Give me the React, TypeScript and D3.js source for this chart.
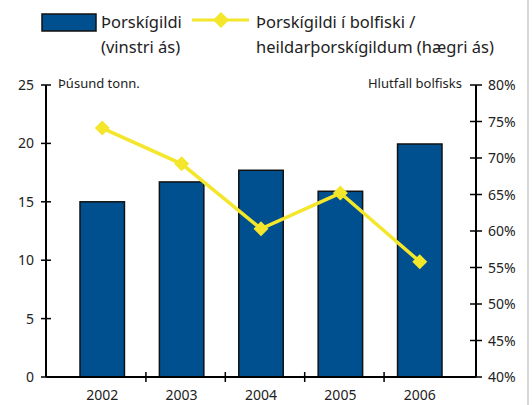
import React from "react";
import * as d3 from "d3";

const years = ["2002", "2003", "2004", "2005", "2006"];
const catchValues = [15.0, 16.7, 17.7, 15.9, 19.95];
const shareValues = [74.1, 69.2, 60.3, 65.2, 55.8];
const leftTicks = [0, 5, 10, 15, 20, 25];
const rightTicks = [40, 45, 50, 55, 60, 65, 70, 75, 80];
const legendBarLines = ["Þorskígildi", "(vinstri ás)"];
const legendLineLines = ["Þorskígildi í bolfiski /", "heildarþorskígildum (hægri ás)"];
const leftTitle = "Þúsund tonn.";
const rightTitle = "Hlutfall bolfisks";

const W = 532;
const H = 405;
const axisL = 46;
const axisR = 476;
const yTop = 85;
const yBot = 377;
const FONT = "'Noto Sans', sans-serif";
const TXT = "#222";
const BLUE = "#00508f";
const YEL = "#f3e62b";

export default function App() {
  const x = d3
    .scaleBand<string>()
    .domain(years)
    .range([80, 442])
    .paddingInner(0.44)
    .paddingOuter(0);
  const bw = x.bandwidth();
  const step = x.step();
  const yL = d3.scaleLinear().domain([0, 25]).range([yBot, yTop]);
  const yR = d3.scaleLinear().domain([40, 80]).range([yBot, yTop]);
  const cx = (d: string) => (x(d) as number) + bw / 2;

  const line = d3
    .line<number>()
    .x((_, i) => cx(years[i]))
    .y((v) => yR(v));

  const diamond = (px: number, py: number, r: number) =>
    `M${px},${py - r}L${px + r},${py}L${px},${py + r}L${px - r},${py}Z`;

  const boundaryTicks = years.slice(0, -1).map((d) => cx(d) + step / 2 + 4);

  return (
    <svg
      width={W}
      height={H}
      style={{ position: "absolute", left: 0, top: 0, background: "#fff" }}
      fontFamily={FONT}
    >
      <rect x={0} y={0} width={W} height={H} fill="#fff" />
      <line x1={528} x2={528} y1={0} y2={H} stroke="#c8c8c8" strokeWidth={1.5} />

      {/* Legend */}
      <rect x={42} y={14} width={54} height={17} fill={BLUE} stroke="#111" strokeWidth={1.5} />
      {legendBarLines.map((t, i) => (
        <text key={t} x={101} y={28 + i * 25} fontSize={16.5} fill={TXT}>
          {t}
        </text>
      ))}
      <line x1={192} x2={249} y1={20} y2={20} stroke={YEL} strokeWidth={3} />
      <path d={diamond(221, 20, 8)} fill={YEL} />
      {legendLineLines.map((t, i) => (
        <text key={t} x={256} y={28 + i * 25} fontSize={16.5} fill={TXT}>
          {t}
        </text>
      ))}

      {/* Axis titles */}
      <text x={58} y={88} fontSize={13} fill={TXT}>
        {leftTitle}
      </text>
      <text x={462} y={88} fontSize={13} fill={TXT} textAnchor="end">
        {rightTitle}
      </text>

      {/* Bars */}
      {years.map((d, i) => (
        <rect
          key={d}
          x={x(d)}
          y={yL(catchValues[i])}
          width={bw}
          height={yBot - yL(catchValues[i])}
          fill={BLUE}
          stroke="#111"
          strokeWidth={1.5}
        />
      ))}

      {/* Left axis */}
      <line x1={axisL} x2={axisL} y1={yTop} y2={yBot} stroke="#000" strokeWidth={2} />
      {leftTicks.map((t) => (
        <g key={t}>
          <line x1={axisL - 5} x2={axisL + 5} y1={yL(t)} y2={yL(t)} stroke="#000" strokeWidth={1.5} />
          <text x={34} y={yL(t) + 5} fontSize={14} fill={TXT} textAnchor="end">
            {t}
          </text>
        </g>
      ))}

      {/* Right axis */}
      <line x1={axisR} x2={axisR} y1={yTop} y2={yBot} stroke="#000" strokeWidth={2} />
      {rightTicks.map((t) => (
        <g key={t}>
          <line x1={axisR - 6} x2={axisR + 6} y1={yR(t)} y2={yR(t)} stroke="#000" strokeWidth={1.5} />
          <text x={488} y={yR(t) + 5} fontSize={14} fill={TXT}>
            {t}%
          </text>
        </g>
      ))}

      {/* Bottom axis */}
      <line x1={axisL} x2={axisR} y1={yBot} y2={yBot} stroke="#000" strokeWidth={2} />
      {boundaryTicks.map((tx, i) => (
        <line key={i} x1={tx} x2={tx} y1={yBot - 5} y2={yBot + 5} stroke="#000" strokeWidth={1.5} />
      ))}
      {years.map((d) => (
        <text key={d} x={cx(d)} y={400} fontSize={14} fill={TXT} textAnchor="middle">
          {d}
        </text>
      ))}

      {/* Line series */}
      <path d={line(shareValues) || ""} fill="none" stroke={YEL} strokeWidth={3.5} />
      {shareValues.map((v, i) => (
        <path key={i} d={diamond(cx(years[i]), yR(v), 7.5)} fill={YEL} />
      ))}
    </svg>
  );
}
